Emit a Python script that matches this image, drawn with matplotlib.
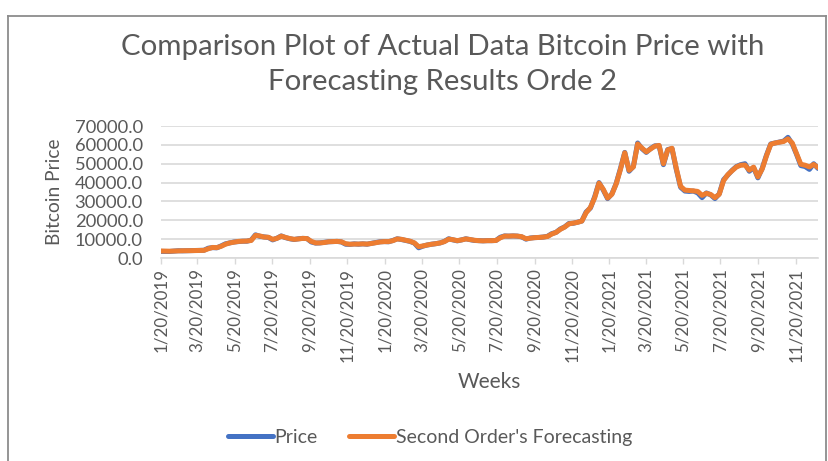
import matplotlib
matplotlib.use("Agg")
import matplotlib.pyplot as plt
import pandas as pd
from matplotlib.lines import Line2D

plt.rcParams['font.family'] = ['Lato', 'DejaVu Sans']

start_date = "2019-01-20"

price = [3500,3450,3450,3650,3850,3800,3850,3900,3950,4000,
         4100,5200,5500,5400,6400,7500,8000,8500,8700,8900,
         8900,9500,12300,11500,11200,10900,9600,10500,11700,10800,
         10200,9800,10200,10400,10300,8500,7900,8000,8300,8600,
         8700,8800,8500,7300,7200,7500,7300,7500,7300,7800,
         8200,8600,8700,8600,9300,10200,9800,9300,8800,7900,
         5400,6300,6900,7300,7600,8000,8800,10200,9600,9100,
         9600,10200,9700,9300,9200,9100,9200,9200,9300,11000,
         11700,11600,11700,11600,11200,10000,10600,10800,10900,11100,
         11500,12900,13600,15400,16500,18300,18400,19000,19600,24400,
         26500,32500,40000,36000,31500,34000,39500,47500,56000,46000,
         48500,61000,58000,56000,58000,59500,59500,49500,57500,58000,
         47000,37500,35500,35300,35500,34500,32000,34500,33500,31500,
         34000,41500,44000,46500,48500,49500,50000,46000,48000,42500,
         47500,54500,60500,61000,61500,62000,64000,60500,55000,49000,
         48500,47000,50000,47500]

forecast = [3700,3650,3600,3700,3850,3850,3850,3900,3950,4000,
            4050,4900,5600,5500,6200,7300,8000,8400,8800,8900,
            9000,9300,12000,11700,11100,11000,9900,10400,11600,10900,
            10300,9900,10100,10400,10300,8800,8000,8000,8200,8600,
            8700,8800,8600,7600,7300,7400,7400,7500,7400,7700,
            8100,8500,8700,8700,9200,10100,9900,9400,8900,8000,
            6000,6400,6900,7300,7600,8000,8700,10000,9700,9200,
            9600,10100,9800,9400,9200,9100,9200,9200,9300,10700,
            11600,11600,11700,11600,11300,10200,10500,10800,10900,11100,
            11400,12700,13600,15200,16400,18100,18500,18900,19600,24000,
            26800,32000,39700,36400,31800,33800,39300,47000,55800,46500,
            48300,60500,58300,56300,57800,59300,59700,50000,57300,58200,
            47500,38000,36000,35800,35600,35300,33200,34300,33700,32000,
            33800,41000,44200,46300,48300,49200,49300,46600,48200,43000,
            47200,54200,60300,61000,61400,61800,63200,61000,55300,49700,
            49200,48300,49600,48000]

tick_labels = ["1/20/2019", "3/20/2019", "5/20/2019", "7/20/2019", "9/20/2019", "11/20/2019",
               "1/20/2020", "3/20/2020", "5/20/2020", "7/20/2020", "9/20/2020", "11/20/2020",
               "1/20/2021", "3/20/2021", "5/20/2021", "7/20/2021", "9/20/2021", "11/20/2021"]
y_ticks = [0, 10000, 20000, 30000, 40000, 50000, 60000, 70000]

dates = pd.date_range(start_date, periods=len(price), freq="7D")
tick_dates = pd.to_datetime(tick_labels, format="%m/%d/%Y")

W, H = 829, 461
fig = plt.figure(figsize=(W/100, H/100), dpi=100)
ax = fig.add_axes([161/W, 1-258/H, (818-161)/W, (258-126)/H])

blue = '#4472C4'
orange = '#ED7D31'
grey_txt = '#595959'
grid_c = '#D9D9D9'

ax.plot(dates, price, color=blue, lw=3.6, solid_capstyle='round', solid_joinstyle='round', label='Price')
ax.plot(dates, forecast, color=orange, lw=3.6, solid_capstyle='round', solid_joinstyle='round',
        label="Second Order's Forecasting")

ax.set_xlim(dates[0], dates[-1])
ax.set_ylim(0, 70000)
ax.set_yticks(y_ticks)
ax.set_yticklabels([f"{v:.1f}" for v in y_ticks])
ax.set_xticks(tick_dates)
ax.set_xticklabels(tick_labels, rotation=90)

ax.grid(axis='y', color=grid_c, lw=1.2)
ax.set_axisbelow(True)
for s in ['top', 'right', 'left']:
    ax.spines[s].set_visible(False)
ax.spines['bottom'].set_color(grid_c)
ax.spines['bottom'].set_linewidth(1.2)
ax.tick_params(axis='y', length=0, labelsize=13.2, labelcolor=grey_txt, pad=13)
ax.tick_params(axis='x', length=4, width=1, color=grid_c, labelsize=12.2, labelcolor=grey_txt, pad=3)

ax.set_ylabel("Bitcoin Price", fontsize=13.8, color=grey_txt)
ax.yaxis.set_label_coords((55-161)/(818-161), 0.5)
ax.set_xlabel("Weeks", fontsize=15, color=grey_txt)
ax.xaxis.set_label_coords(0.5, -(382-258)/(258-126))
ax.xaxis.label.set_va('center')
ax.yaxis.label.set_va('center')

fig.text(443/W, 1-47/H, "Comparison Plot of Actual Data Bitcoin Price with", ha='center', va='center',
         fontsize=21.2, color=grey_txt)
fig.text(443/W, 1-82/H, "Forecasting Results Orde 2", ha='center', va='center',
         fontsize=21.2, color=grey_txt)

handles = [Line2D([], [], color=blue, lw=3.6, solid_capstyle='round'),
           Line2D([], [], color=orange, lw=3.6, solid_capstyle='round')]
fig.legend(handles, ['Price', "Second Order's Forecasting"], loc='center',
           bbox_to_anchor=(430/W, 1-437/H), ncol=2, frameon=False, fontsize=14,
           handlelength=2.3, handletextpad=0.1, columnspacing=1.6, labelcolor=grey_txt)

# chart frame
frame_c = '#8C8C8C'
fig.add_artist(Line2D([8/W, 8/W], [0, 1-16/H], color=frame_c, lw=1.3, transform=fig.transFigure))
fig.add_artist(Line2D([8/W, 826/W], [1-16/H, 1-16/H], color=frame_c, lw=1.3, transform=fig.transFigure))
fig.add_artist(Line2D([826/W, 826/W], [0, 1-16/H], color=frame_c, lw=1.3, transform=fig.transFigure))

fig.savefig("out.png", dpi=100)
